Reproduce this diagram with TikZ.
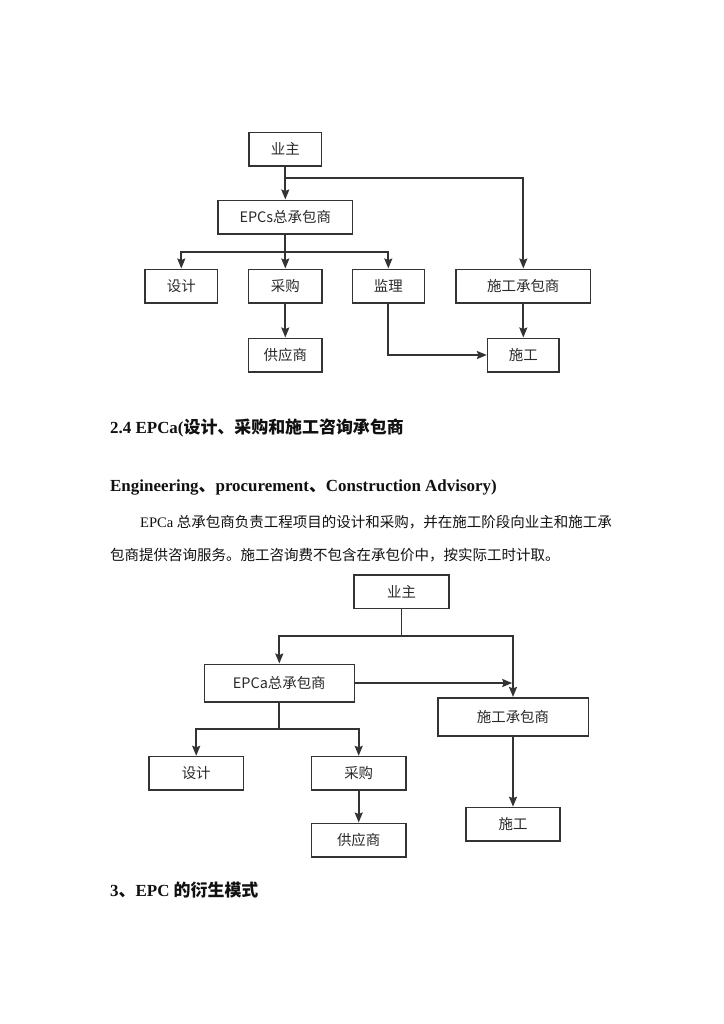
\documentclass[tikz,border=0pt]{standalone}
\usepackage{fontspec}
\usepackage{xcolor}
\usepackage{tikz}
\usetikzlibrary{arrows.meta}
\setmainfont{Liberation Serif}
\newfontfamily\cjk{Noto Sans CJK SC}
\definecolor{bg}{HTML}{FFFFFF}
\definecolor{edge}{HTML}{333333}
\definecolor{ink}{HTML}{111111}
\definecolor{boxText}{HTML}{2A2A2A}
\tikzset{
  boxNode/.style={draw=edge, line width=1.6pt, minimum height=33.4bp, inner sep=0pt, text=boxText, font=\cjk\fontsize{14.5}{16}\selectfont},
  flowLine/.style={draw=edge, line width=1.8pt},
  flowArrow/.style={flowLine, -{Stealth[length=10pt,width=8pt,inset=1.5pt]}},
  headLbl/.style={anchor=base west, inner sep=0pt, font=\bfseries\fontsize{17}{20}\selectfont},
  bodyLbl/.style={anchor=base west, inner sep=0pt, font=\fontsize{14.6}{17}\selectfont},
}
\newcommand{\headCJK}[1]{{\cjk\bfseries\fontsize{17}{20}\selectfont #1}}
\newcommand{\bodyCJK}[1]{{\cjk\fontsize{14.55}{17}\selectfont #1}}

\begin{document}
\begin{tikzpicture}[x=1bp, y=-1bp, every node/.style={text=ink}]
  \fill[bg] (0,0) rectangle (724,1024);
  \useasboundingbox (0,0) rectangle (724,1024);

  % EPCs chart
  \node[boxNode, minimum width=72.4bp]  (ownerA)    at (285.3,149) {业主};
  \node[boxNode, minimum width=134.6bp] (epcs)      at (285.3,217) {EPCs总承包商};
  \node[boxNode, minimum width=72.7bp]  (designA)   at (181.3,286) {设计};
  \node[boxNode, minimum width=73.4bp]  (procureA)  at (285.3,286) {采购};
  \node[boxNode, minimum width=72bp]    (supervise) at (388.3,286) {监理};
  \node[boxNode, minimum width=134.7bp] (subA)      at (523.3,286) {施工承包商};
  \node[boxNode, minimum width=73.4bp]  (supplierA) at (285.3,355) {供应商};
  \node[boxNode, minimum width=71.3bp]  (siteA)     at (523.3,355) {施工};

  \coordinate (forkA) at (285.3,177.7);
  \coordinate (forkB) at (285.3,251.7);
  \draw[flowArrow] (ownerA) -- (epcs);
  \draw[flowArrow] (forkA) -| (subA);
  \draw[flowLine] (epcs) -- (forkB);
  \draw[flowArrow] (forkB) -| (designA);
  \draw[flowArrow] (forkB) -- (procureA);
  \draw[flowArrow] (forkB) -| (supervise);
  \draw[flowArrow] (procureA) -- (supplierA);
  \draw[flowArrow] (subA) -- (siteA);
  \draw[flowArrow] (supervise) |- (siteA);

  % Text block
  \node[headLbl] (headEpca) at (110,433.3) {2.4 EPCa(\headCJK{设计、采购和施工咨询承包商}};
  \node[headLbl] (headEng) at (110,491.7) {Engineering\headCJK{、}procurement\headCJK{、}Construction Advisory)};
  \node[bodyLbl] (bodyOne) at (140,527.5) {EPCa \bodyCJK{总承包商负责工程项目的设计和采购，并在施工阶段向业主和施工承}};
  \node[bodyLbl] (bodyTwo) at (110,560.5) {\bodyCJK{包商提供咨询服务。施工咨询费不包含在承包价中，按实际工时计取。}};

  % EPCa chart
  \node[boxNode, minimum width=95bp]    (ownerB)    at (401.5,591.7) {业主};
  \node[boxNode, minimum width=150bp, minimum height=37.4bp] (epca) at (279.3,683) {EPCa总承包商};
  \node[boxNode, minimum width=150.6bp, minimum height=38bp] (subB) at (513,716.7) {施工承包商};
  \node[boxNode, minimum width=94.3bp]  (designB)   at (196.2,773.3) {设计};
  \node[boxNode, minimum width=94bp]    (procureB)  at (358.7,773.3) {采购};
  \node[boxNode, minimum width=94bp]    (supplierB) at (358.7,840) {供应商};
  \node[boxNode, minimum width=94.3bp]  (siteB)     at (513,824.2) {施工};

  \coordinate (forkC) at (401.5,636);
  \coordinate (forkD) at (279.3,729.3);
  \draw[flowLine] (ownerB) -- (forkC);
  \draw[flowArrow] (forkC) -| (epca);
  \draw[flowArrow] (forkC) -| (subB);
  \draw[flowArrow, shorten >=0.8pt] (epca) -- (epca -| subB);
  \draw[flowLine] (epca) -- (forkD);
  \draw[flowArrow] (forkD) -| (designB);
  \draw[flowArrow] (forkD) -| (procureB);
  \draw[flowArrow] (procureB) -- (supplierB);
  \draw[flowArrow] (subB) -- (siteB);

  \node[headLbl] (headDerive) at (110,896.5) {3\headCJK{、}EPC \headCJK{的衍生模式}};
\end{tikzpicture}
\end{document}
